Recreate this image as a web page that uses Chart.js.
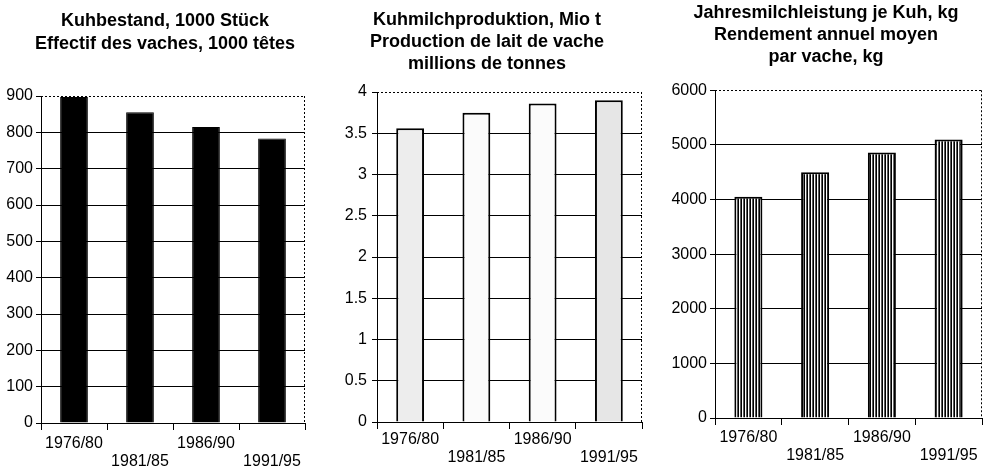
<!DOCTYPE html>
<html>
<head>
<meta charset="utf-8">
<script src="https://cdn.jsdelivr.net/npm/chart.js@4.4.1/dist/chart.umd.min.js"></script>
<style>
  body { margin: 0; background: #fff; }
  #wrap { position: relative; width: 993px; height: 468px; }
  canvas { position: absolute; top: 0; }
</style>
</head>
<body>
<div id="wrap">
  <canvas id="c1" width="330" height="468" style="left:0"></canvas>
  <canvas id="c2" width="330" height="468" style="left:330px"></canvas>
  <canvas id="c3" width="333" height="468" style="left:660px"></canvas>
</div>
<script>
// data
var periods = ['1976/80', '1981/85', '1986/90', '1991/95'];
var cows = [897, 855, 815, 783];          // 1000 Stück
var milk = [3.56, 3.75, 3.86, 3.9];       // Mio t
var yieldPerCow = [4050, 4500, 4860, 5100]; // kg

var cowsTicks = [0, 100, 200, 300, 400, 500, 600, 700, 800, 900];
var milkTicks = [0, 0.5, 1, 1.5, 2, 2.5, 3, 3.5, 4];
var yieldTicks = [0, 1000, 2000, 3000, 4000, 5000, 6000];

var cowsTitle = ['Kuhbestand, 1000 Stück', 'Effectif des vaches, 1000 têtes'];
var milkTitle = ['Kuhmilchproduktion, Mio t', 'Production de lait de vache', 'millions de tonnes'];
var yieldTitle = ['Jahresmilchleistung je Kuh, kg', 'Rendement annuel moyen', 'par vache, kg'];

var FONT = "'Liberation Sans', Arial, Helvetica, sans-serif";

// staggered x labels: every second one on a lower line
var xLabels = periods.map((p, i) => i % 2 ? ['', p] : [p]);

// dotted top and right edge of the plot
var framePlugin = {
  id: 'frame',
  beforeDatasetsDraw(chart) {
    var ctx = chart.ctx, a = chart.chartArea;
    ctx.save();
    ctx.strokeStyle = '#000';
    ctx.lineWidth = 1;
    ctx.setLineDash([2, 2]);
    ctx.beginPath();
    ctx.moveTo(a.left, Math.round(a.top) + 0.5);
    ctx.lineTo(a.right, Math.round(a.top) + 0.5);
    ctx.moveTo(Math.round(a.right) - 0.5, a.top);
    ctx.lineTo(Math.round(a.right) - 0.5, a.bottom);
    ctx.stroke();
    ctx.restore();
  }
};

function stripes() {
  var c = document.createElement('canvas');
  c.width = 3; c.height = 4;
  var g = c.getContext('2d');
  g.fillStyle = '#fff'; g.fillRect(0, 0, 3, 4);
  g.fillStyle = '#000'; g.fillRect(0, 0, 1, 4);
  g.fillStyle = '#5a5a5a'; g.fillRect(2, 0, 1, 4);
  return g.createPattern(c, 'repeat');
}

function makeChart(id, o) {
  var top = o.ticks[o.ticks.length - 1];
  var scales = {
    x: {
      grid: { display: true, offset: true, drawOnChartArea: false, drawTicks: true,
              tickLength: 7, color: '#000', tickColor: '#000' },
      border: { display: true, color: '#000', width: 1 },
      ticks: { color: '#000', padding: o.xPad, maxRotation: 0, autoSkip: false,
               font: { family: FONT, size: 16, lineHeight: 1.1 } },
      afterFit: (s) => { s.height = o.xH; }
    },
    y: {
      min: o.ticks[0],
      max: top,
      grid: { color: (c) => (c.tick && c.tick.value === top) ? 'rgba(0,0,0,0)' : '#000',
              tickColor: '#000', tickLength: 5, lineWidth: 1 },
      border: { display: true, color: '#000', width: 1 },
      ticks: { color: '#000', padding: o.yPad, callback: (v) => String(v),
               font: { family: FONT, size: 16 } },
      afterBuildTicks: (s) => { s.ticks = o.ticks.map((v) => ({ value: v })); },
      afterFit: (s) => { s.width = o.yW; }
    }
  };
  if (o.rW) {
    // empty spacer on the right so the title stays centred on the canvas
    scales.spacer = {
      type: 'linear', position: 'right', display: true,
      grid: { display: false }, border: { display: false }, ticks: { display: false },
      afterFit: (s) => { s.width = o.rW; }
    };
  }
  return new Chart(document.getElementById(id), {
    type: 'bar',
    data: {
      labels: xLabels,
      datasets: [{
        data: o.values,
        backgroundColor: o.fill,
        borderColor: '#000',
        borderWidth: o.border,
        categoryPercentage: 1,
        barPercentage: 0.42
      }]
    },
    options: {
      responsive: false,
      animation: false,
      layout: { padding: { left: o.padL, right: o.padR, top: 0, bottom: 0 } },
      plugins: {
        legend: { display: false },
        tooltip: { enabled: false },
        title: {
          display: true,
          text: o.title,
          color: '#000',
          font: { family: FONT, size: 18, weight: 'bold', lineHeight: o.titleLH / 18 },
          padding: { top: o.titleTop, bottom: o.titleBottom }
        }
      },
      scales: scales
    },
    plugins: [framePlugin]
  });
}

makeChart('c1', {
  values: cows, ticks: cowsTicks, title: cowsTitle,
  fill: '#000', border: 1,
  padL: 0, padR: 0, rW: 25, yW: 41, xH: 45, xPad: 5, yPad: 3,
  titleLH: 23, titleTop: 9.5, titleBottom: 40.5
});

makeChart('c2', {
  values: milk, ticks: milkTicks, title: milkTitle,
  fill: ['#ededed', '#fbfbfb', '#fbfbfb', '#e6e6e6'], border: 2,
  padL: 2, padR: 18, yW: 45, xH: 46, xPad: 2, yPad: 5,
  titleLH: 22, titleTop: 9, titleBottom: 17
});

makeChart('c3', {
  values: yieldPerCow, ticks: yieldTicks, title: yieldTitle,
  fill: stripes(), border: 2,
  padL: 10, padR: 11, yW: 45, xH: 50, xPad: 4, yPad: 3,
  titleLH: 22, titleTop: 2.5, titleBottom: 21.75
});
</script>
</body>
</html>
